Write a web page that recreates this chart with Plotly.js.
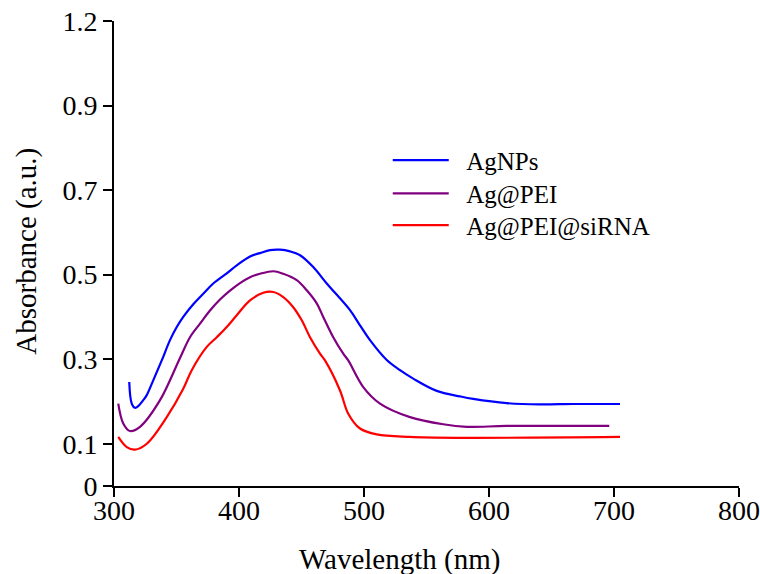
<!DOCTYPE html>
<html>
<head>
<meta charset="utf-8">
<script src="https://cdn.plot.ly/plotly-3.0.1.min.js"></script>
<style>html,body{margin:0;padding:0;background:#fff;}#chart{width:760px;height:574px;}</style>
</head>
<body>
<div id="chart"></div>
<script>
// Data
const seriesNames = ["AgNPs", "Ag@PEI", "Ag@PEI@siRNA"];
const seriesColors = ["#0000FF", "#800080", "#FF0000"];

const agnpsX = [312.2, 314.2, 316.8, 319.4, 323.4, 326.2, 331.4, 338.2, 344.8, 350.2, 355.4, 363.4, 371.4, 379.4, 390.2, 398.2, 408.8, 416.8, 424.8, 432.8, 440.8, 448.8, 459.4, 470.2, 488.8, 496.8, 504.8, 518.2, 528.8, 539.4, 558.2, 576.8, 587.4, 614.2, 640.8, 667.4, 704.8];
const agnpsY = [0.246, 0.195, 0.185, 0.189, 0.203, 0.215, 0.250, 0.297, 0.345, 0.376, 0.400, 0.430, 0.455, 0.479, 0.503, 0.522, 0.543, 0.551, 0.558, 0.559, 0.555, 0.546, 0.518, 0.479, 0.416, 0.380, 0.345, 0.298, 0.274, 0.254, 0.225, 0.212, 0.206, 0.196, 0.193, 0.194, 0.194];

const agpeiX = [303.4, 307.4, 312.8, 320.8, 336.8, 352.8, 360.8, 368.8, 376.8, 384.8, 392.8, 400.8, 408.8, 416.8, 427.4, 435.4, 446.2, 454.2, 462.2, 467.4, 475.4, 483.4, 487.4, 499.4, 512.8, 536.8, 563.4, 582.2, 614.2, 696.2];
const agpeiY = [0.195, 0.148, 0.130, 0.140, 0.203, 0.303, 0.352, 0.384, 0.415, 0.441, 0.462, 0.480, 0.494, 0.502, 0.508, 0.502, 0.487, 0.463, 0.432, 0.400, 0.352, 0.313, 0.297, 0.234, 0.195, 0.163, 0.146, 0.140, 0.142, 0.142];

const sirnaX = [303.4, 310.2, 316.8, 326.2, 342.2, 355.4, 362.2, 374.2, 382.2, 390.2, 398.2, 408.8, 419.4, 427.4, 435.4, 443.4, 450.2, 456.8, 464.8, 468.8, 480.8, 487.4, 496.8, 510.2, 536.8, 576.8, 704.8];
const sirnaY = [0.116, 0.092, 0.086, 0.100, 0.163, 0.230, 0.274, 0.329, 0.352, 0.376, 0.404, 0.439, 0.457, 0.459, 0.447, 0.423, 0.392, 0.352, 0.313, 0.297, 0.226, 0.171, 0.136, 0.122, 0.116, 0.114, 0.116];

const xTickVals = [300, 400, 500, 600, 700, 800];
const yTickVals = [0, 0.1, 0.3, 0.5, 0.7, 0.9, 1.1];
const yTickText = ["0", "0.1", "0.3", "0.5", "0.7", "0.9", "1.2"];

const xTitle = "Wavelength (nm)";
const yTitle = "Absorbance (a.u.)";

const FONT = "'Liberation Serif', 'Times New Roman', serif";
const PAD = "\u00a0\u00a0";

const xs = [agnpsX, agpeiX, sirnaX];
const ys = [agnpsY, agpeiY, sirnaY];
const legendIds = ["legend", "legend2", "legend3"];
const legendY = [0.7004, 0.6288, 0.5606];

const traces = seriesNames.map((n, i) => ({
  type: "scatter",
  mode: "lines",
  name: PAD + n,
  legend: legendIds[i],
  x: xs[i],
  y: ys[i],
  line: {color: seriesColors[i], width: 2.2, shape: "spline", smoothing: 1}
}));

function legendCfg(y) {
  return {
    x: 0.438, y: y, xanchor: "left", yanchor: "middle",
    font: {family: FONT, size: 25, color: "#000"},
    itemwidth: 56,
    bgcolor: "rgba(0,0,0,0)",
    borderwidth: 0
  };
}

const layout = {
  width: 760,
  height: 574,
  margin: {l: 114, r: 21, t: 21, b: 88},
  paper_bgcolor: "#fff",
  plot_bgcolor: "#fff",
  font: {family: FONT, color: "#000", size: 26},
  showlegend: true,
  legend: legendCfg(legendY[0]),
  legend2: legendCfg(legendY[1]),
  legend3: legendCfg(legendY[2]),
  xaxis: {
    range: [300, 800],
    tickvals: xTickVals,
    ticks: "outside", ticklen: 9, tickwidth: 2, tickcolor: "#000",
    showline: true, linecolor: "#000", linewidth: 2,
    showgrid: false, zeroline: false,
    ticklabelstandoff: -11,
    tickfont: {family: FONT, size: 28, color: "#000"}
  },
  yaxis: {
    range: [0, 1.1],
    tickvals: yTickVals,
    ticktext: yTickText,
    ticks: "outside", ticklen: 9, tickwidth: 2, tickcolor: "#000",
    showline: true, linecolor: "#000", linewidth: 2,
    showgrid: false, zeroline: false,
    tickfont: {family: FONT, size: 28, color: "#000"}
  },
  annotations: [
    {text: xTitle, xref: "paper", yref: "paper", x: 0.456, y: -0.158, xanchor: "center", yanchor: "middle",
     showarrow: false, font: {family: FONT, size: 29, color: "#000"}},
    {text: yTitle, xref: "paper", yref: "paper", x: -0.14, y: 0.505, xanchor: "center", yanchor: "middle",
     textangle: -90, showarrow: false, font: {family: FONT, size: 29, color: "#000"}}
  ]
};

Plotly.newPlot("chart", traces, layout, {staticPlot: true, displayModeBar: false});
</script>
</body>
</html>
